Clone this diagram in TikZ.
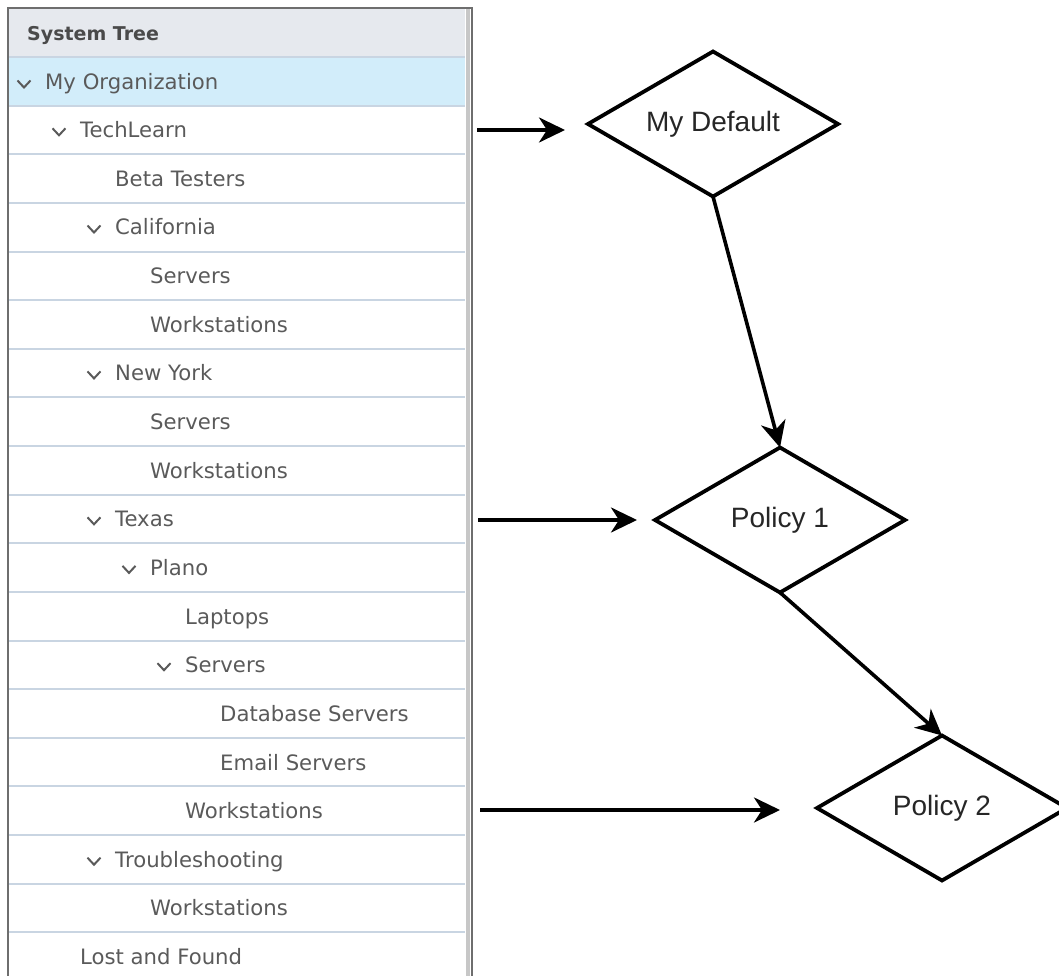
\documentclass[tikz,border=0pt]{standalone}
\usepackage{fontspec}
\setmainfont{Liberation Sans}
\newfontfamily\treefont{DejaVu Sans}
\usetikzlibrary{shapes.geometric, arrows.meta, positioning}
\definecolor{treetext}{HTML}{5A5A5A}
\definecolor{headtext}{HTML}{4A4A4A}
\definecolor{headbg}{HTML}{E6E9EE}
\definecolor{selbg}{HTML}{D2EDFA}
\definecolor{sepline}{HTML}{C9D5E2}
\definecolor{panelline}{HTML}{6E6E6E}
\tikzset{
    x=1pt, y=-1pt, % work on the pixel grid, y grows downwards
    item/.style={anchor=base west, inner sep=0pt, text=treetext, font=\treefont\fontsize{21.2}{24}\selectfont}, % one row of the tree
    policy/.style={diamond, draw, line width=3.8pt, shape aspect=1.72, minimum width=250pt, minimum height=145pt,
        inner sep=0pt, outer sep=0pt, text=black!85, font=\fontsize{28}{32}\selectfont}, % policy boxes
    flow/.style={-{Stealth[length=26pt, width=25pt, inset=8pt]}, line width=3.6pt}, % the bold arrows
    pics/chevron/.style={code={\draw[treetext, line width=2pt] (-6.5,-3.5) -- (0,3.5) -- (6.5,-3.5);}},
}
\begin{document}
\begin{tikzpicture}
    \useasboundingbox (0,0) rectangle (1059,976);
    \clip (0,0) rectangle (1059,976);
    % panel background
    \fill[headbg] (9,9) rectangle (465,57);
    \fill[selbg] (9,58) rectangle (465,106);
    \foreach \k in {0,...,18}
        \draw[sepline, line width=2pt] (9,{57+48.63*\k}) -- (465,{57+48.63*\k});
    \fill[black!22] (466,9) rectangle (470,976);
    \draw[panelline, line width=1.5pt] (8,976) -- (8,8) -- (472,8) -- (472,976);

    % the system tree
    \node[item, text=headtext, font=\treefont\bfseries\fontsize{19}{24}\selectfont] (head) at (27,40.5) {System Tree};
    \node[item] (org) at (45,90) {My Organization};
    \node[item] (tech) at (80,137.8) {TechLearn};
    \node[item] (beta) at (115,186.4) {Beta Testers};
    \node[item] (cal) at (115,235) {California};
    \node[item] (calsrv) at (150,283.7) {Servers};
    \node[item] (calws) at (150,332.3) {Workstations};
    \node[item] (ny) at (115,380.9) {New York};
    \node[item] (nysrv) at (150,429.5) {Servers};
    \node[item] (nyws) at (150,478.2) {Workstations};
    \node[item] (tx) at (115,526.8) {Texas};
    \node[item] (plano) at (150,575.4) {Plano};
    \node[item] (laptops) at (185,624.1) {Laptops};
    \node[item] (plsrv) at (185,672.7) {Servers};
    \node[item] (dbsrv) at (220,721.3) {Database Servers};
    \node[item] (mail) at (220,770) {Email Servers};
    \node[item] (plws) at (185,818.6) {Workstations};
    \node[item] (trouble) at (115,867.2) {Troubleshooting};
    \node[item] (trws) at (150,915.8) {Workstations};
    \node[item] (lost) at (80,964.5) {Lost and Found};
    \foreach \n in {org, tech, cal, ny, tx, plano, plsrv, trouble}
        \pic at ([xshift=-21pt, yshift=6pt]\n.base west) {chevron};

    % policies
    \node[policy] (def) at (713,124) {My Default};
    \node[policy] (pone) at (780,520) {Policy 1};
    \node[policy] (ptwo) at (942,808) {Policy 2};

    \coordinate (s1) at (477,130);
    \coordinate (s2) at (478,520);
    \coordinate (s3) at (480,810);
    \draw[flow, shorten >=23pt] (s1) -- (s1 -| def.west);
    \draw[flow, shorten >=18pt] (s2) -- (s2 -| pone.west);
    \draw[flow, shorten >=37pt] (s3) -- (s3 -| ptwo.west);
    \draw[flow] (def.south) -- (pone.north);
    \draw[flow] (pone.south) -- (ptwo.north);
\end{tikzpicture}
\end{document}
